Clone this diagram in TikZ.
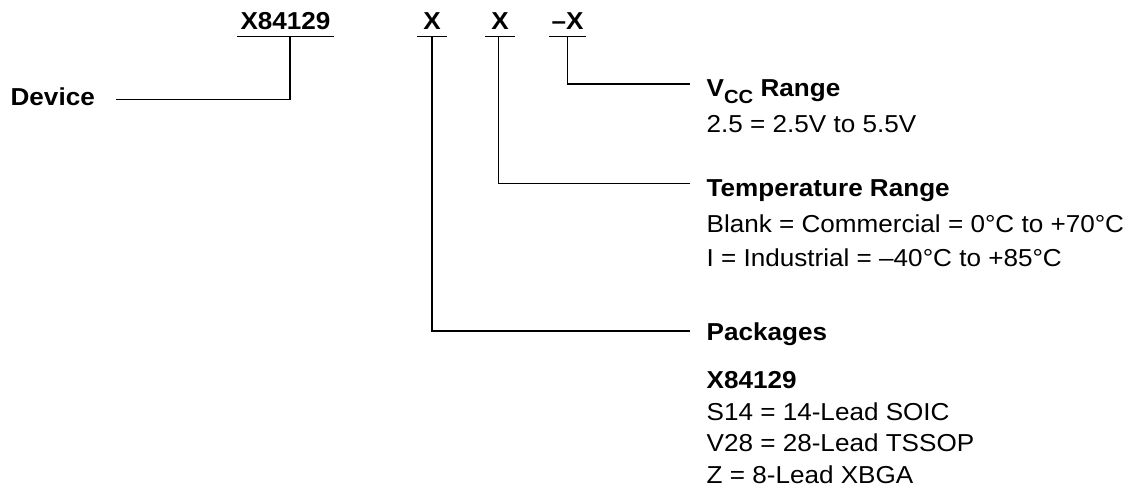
\documentclass[tikz,border=0pt]{standalone}
\usepackage{fontspec}
\setmainfont{Liberation Sans}[FakeStretch=1.065]
\newcommand{\bigf}{\fontsize{24.5}{30}\selectfont}
\begin{document}
\begin{tikzpicture}[x=1pt,y=-1pt,line width=1.3pt,
  txt/.style={anchor=base west,inner sep=0pt,font=\bigf},
  bld/.style={anchor=base west,inner sep=0pt,font=\bigf\bfseries},
  hdr/.style={anchor=south,inner xsep=0pt,inner ysep=0pt,text depth=6.7pt,font=\bigf\bfseries},
  uline/.style={line width=1.3pt},
  conn/.style={line width=1.3pt}]
\useasboundingbox (0,0) rectangle (1136,489);

% header codes
\node[hdr,minimum width=95pt] (hdev) at (285.5,36.7) {X84129};
\node[hdr,minimum width=28pt] (hpkg) at (432,36.7) {X};
\node[hdr,minimum width=28pt] (htmp) at (500,36.7) {X};
\node[hdr,minimum width=35pt] (hvcc) at (567.5,36.7) {–X};
\foreach \n in {hdev,hpkg,htmp,hvcc}
  \draw[uline] (\n.south west) -- (\n.south east);

% device
\node[bld] (dev) at (10,106) {Device};
\coordinate (devend) at (116,99.3);
\draw[conn] ([xshift=4.5pt]hdev.south) |- (devend);

% VCC range
\coordinate (vccend) at (690,84);
\draw[conn] (hvcc.south) |- (vccend);
\node[bld] (vcct) at (706,96.5) {V\raisebox{-0.27em}{\fontsize{19}{19}\selectfont CC} Range};
\node[txt] (vcc1) at (706,133) {2.5 = 2.5V to 5.5V};

% temperature range
\coordinate (tmpend) at (690,183.3);
\draw[conn] ([xshift=-1.5pt]htmp.south) |- (tmpend);
\node[bld] (tmpt) at (706,196.5) {Temperature Range};
\node[txt] (tmp1) at (706,232.5) {Blank = Commercial = 0°C to +70°C};
\node[txt] (tmp2) at (706,267) {I = Industrial = –40°C to +85°C};

% packages
\coordinate (pkgend) at (690,331);
\draw[conn] (hpkg.south) |- (pkgend);
\node[bld] (pkgt) at (706,340.7) {Packages};
\node[bld] (pkgd) at (706,388) {X84129};
\node[txt] (pkg1) at (706,420.7) {S14 = 14-Lead SOIC};
\node[txt] (pkg2) at (706,451.5) {V28 = 28-Lead TSSOP};
\node[txt] (pkg3) at (706,483) {Z = 8-Lead XBGA};
\end{tikzpicture}
\end{document}
